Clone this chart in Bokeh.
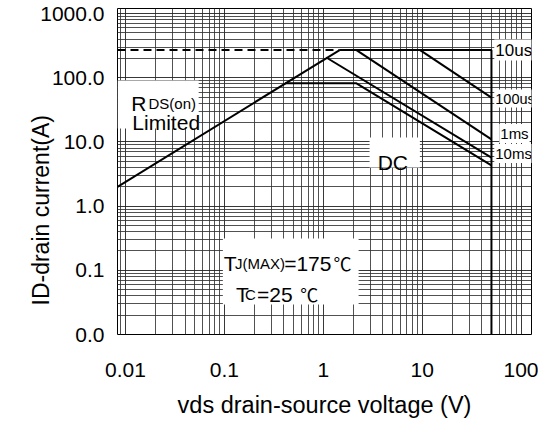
import math
from bokeh.plotting import figure
from bokeh.models import (Range1d, FixedTicker, CustomJSTickFormatter, Label,
                          BoxAnnotation, Title)
from bokeh.embed import file_html
from bokeh.resources import INLINE

# ---------------- data ----------------
x_ticks = [0.01, 0.1, 1, 10, 100]
x_tick_labels = ["0.01", "0.1", "1", "10", "100"]
y_ticks = [0.01, 0.1, 1, 10, 100, 1000]
y_tick_labels = ["0.0", "0.1", "1.0", "10.0", "100.0", "1000.0"]

# RDS(on) limit line
rds_v = [0.0083, 1.46]
rds_i = [2.0, 270.0]
# pulsed current limit (dashed)
pulse_v = [0.0083, 1.46]
pulse_i = [270.0, 270.0]
# 10 us boundary (plateau + VDS max)
us10_v = [1.46, 50.0, 50.0]
us10_i = [270.0, 270.0, 0.01]
# 100 us
us100_v = [9.5, 50.0]
us100_i = [270.0, 49.0]
# 1 ms
ms1_v = [2.16, 50.0]
ms1_i = [270.0, 11.0]
# 10 ms
ms10_v = [1.07, 50.0]
ms10_i = [207.0, 5.7]
# DC
dc_v = [0.41, 2.16, 50.0]
dc_i = [82.0, 82.0, 4.3]

FONT = "Liberation Sans"

p = figure(width=538, height=429, x_axis_type="log", y_axis_type="log",
           x_range=Range1d(0.0083, 127), y_range=Range1d(0.01, 1200),
           output_backend="svg", toolbar_location=None,
           min_border_left=117, min_border_right=7, min_border_top=8,
           min_border_bottom=95)

p.background_fill_color = "white"
p.border_fill_color = "white"
p.outline_line_color = "black"
p.outline_line_width = 1

x_minor = [m * 10.0 ** k for k in range(-3, 3) for m in range(2, 10)]
y_minor = [m * 10.0 ** k for k in range(-3, 4) for m in range(2, 10)]
p.xaxis.ticker = FixedTicker(ticks=x_ticks, minor_ticks=x_minor)
p.yaxis.ticker = FixedTicker(ticks=y_ticks, minor_ticks=y_minor)

fmt_code = """
const i = tv.findIndex(t => Math.abs(Math.log10(t) - Math.log10(tick)) < 1e-6);
return i >= 0 ? labs[i] : '';
"""
p.xaxis.formatter = CustomJSTickFormatter(args=dict(tv=x_ticks, labs=x_tick_labels), code=fmt_code)
p.yaxis.formatter = CustomJSTickFormatter(args=dict(tv=y_ticks, labs=y_tick_labels), code=fmt_code)

for ax in (p.xaxis, p.yaxis):
    ax.axis_line_color = None
    ax.major_tick_line_color = None
    ax.minor_tick_line_color = None
    ax.major_label_text_font = FONT
    ax.major_label_text_font_size = "21px"
    ax.major_label_text_color = "black"
p.xaxis.major_label_standoff = 22
p.yaxis.major_label_standoff = 7

for g in (p.xgrid, p.ygrid):
    g.grid_line_color = "#222222"
    g.grid_line_width = 1
    g.grid_line_alpha = 0.9
    g.minor_grid_line_color = "#333333"
    g.minor_grid_line_width = 1
    g.minor_grid_line_alpha = 0.85

# axis titles
p.add_layout(Title(text="ID-drain current(A)", align="left", offset=29,
                   text_font=FONT, text_font_size="23px",
                   text_font_style="normal", text_color="black",
                   standoff=-32), "left")
p.add_layout(Title(text="vds drain-source voltage (V)", align="center",
                   text_font=FONT, text_font_size="23.5px",
                   text_font_style="normal", text_color="black",
                   standoff=20), "below")

# white boxes behind annotations
for (l, r, b, t) in [(0.0083, 0.0549, 16.2, 90.6),
                     (2.93, 9.45, 4.0, 11.74),
                     (0.0964, 2.27, 0.0294, 0.3135)]:
    p.add_layout(BoxAnnotation(left=l, right=r, bottom=b, top=t,
                               fill_color="white", fill_alpha=1.0,
                               line_color=None))

# curves
p.line(pulse_v, pulse_i, line_color="black", line_width=2, line_dash="8 5")
p.line(rds_v, rds_i, line_color="black", line_width=2)
p.line(us10_v, us10_i, line_color="black", line_width=2)
p.line(us100_v, us100_i, line_color="black", line_width=2)
p.line(ms1_v, ms1_i, line_color="black", line_width=2)
p.line(ms10_v, ms10_i, line_color="black", line_width=2)
p.line(dc_v, dc_i, line_color="black", line_width=2)


def lab(text, x, y, size, font=FONT, align="left", baseline="alphabetic",
        bg=None):
    kw = dict(x=x, y=y, text=text, text_font=font,
              text_font_size=f"{size}px", text_align=align,
              text_baseline=baseline, text_color="black")
    if bg is not None:
        kw["background_fill_color"] = bg
        kw["padding"] = 1
    p.add_layout(Label(**kw))


# RDS(on) Limited
lab("R", 0.01146, 39.7, 21)
lab("DS(on)", 0.01706, 39.7, 15)
lab("Limited", 0.01173, 20.1, 21)
# DC
lab("DC", 3.54, 4.79, 21)
# TJ / TC
lab("T", 0.0986, 0.128, 21)
lab("J(MAX)", 0.1276, 0.128, 15)
lab("=175", 0.4017, 0.128, 21)
lab("℃", 1.264, 0.128, 18, font="Noto Sans CJK SC")
lab("T", 0.1306, 0.0421, 21)
lab("C", 0.161, 0.0421, 15)
lab("=25", 0.2135, 0.0421, 21)
lab("℃", 0.584, 0.0421, 18, font="Noto Sans CJK SC")
# pulse width labels
lab("10us", 53.4, 270.7, 17, baseline="middle", bg="white")
lab("100us", 53.4, 47.5, 14.5, baseline="middle", bg="white")
lab("1ms", 60.0, 13.6, 15, baseline="middle", bg="white")
lab("10ms", 53.4, 6.61, 15, baseline="middle", bg="white")

open("out.html", "w").write(file_html(p, INLINE))
